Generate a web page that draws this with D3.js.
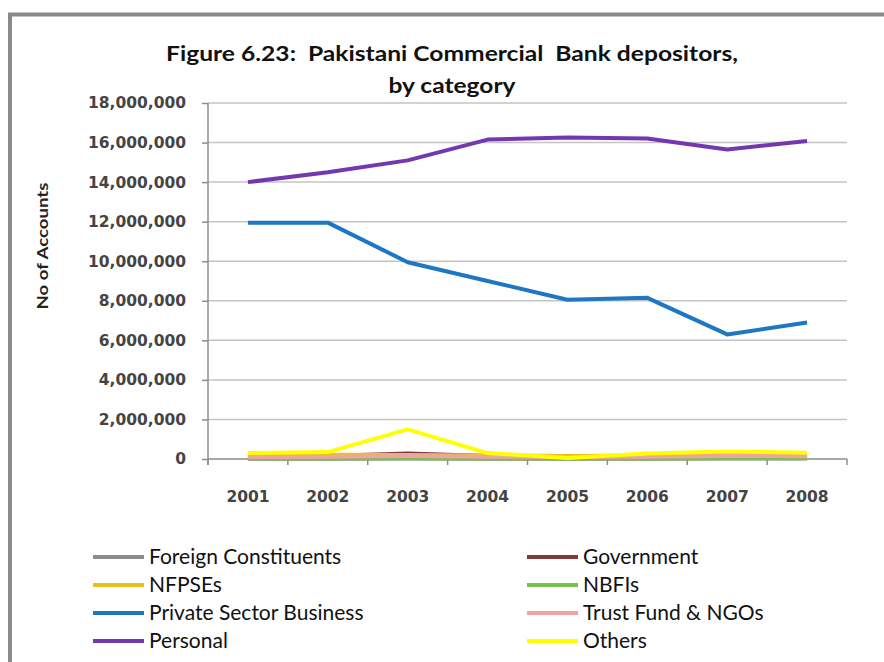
<!DOCTYPE html>
<html>
<head>
<meta charset="utf-8">
<script src="https://cdn.jsdelivr.net/npm/d3@7"></script>
<style>
  html, body { margin: 0; padding: 0; background: #fff; }
  svg { display: block; }
  .title { white-space: pre; }
</style>
</head>
<body>
<svg id="chart" width="884" height="662"></svg>
<script>
// Years on the category axis
const years = ["2001", "2002", "2003", "2004", "2005", "2006", "2007", "2008"];

// Number of accounts per depositor category
const foreignConstituents = [15000, 15000, 20000, 15000, 15000, 15000, 20000, 20000];
const government          = [120000, 150000, 280000, 150000, 100000, 150000, 280000, 200000];
const nfpses              = [250000, 220000, 200000, 180000, 150000, 180000, 220000, 200000];
const nbfis               = [30000, 30000, 40000, 30000, 30000, 30000, 40000, 40000];
const privateSector       = [11950000, 11950000, 9950000, 9000000, 8050000, 8150000, 6300000, 6900000];
const trustFundNGOs       = [100000, 110000, 150000, 120000, 100000, 120000, 150000, 140000];
const personal            = [14000000, 14500000, 15100000, 16150000, 16250000, 16200000, 15650000, 16080000];
const others              = [300000, 350000, 1500000, 300000, 50000, 280000, 380000, 320000];

// Y axis tick values
const yTicks = [0, 2e6, 4e6, 6e6, 8e6, 10e6, 12e6, 14e6, 16e6, 18e6];

const series = [
  { name: "Foreign Constituents",     values: foreignConstituents, color: "#8c8c8c" },
  { name: "Government",               values: government,          color: "#7e3b3b" },
  { name: "NFPSEs",                   values: nfpses,              color: "#e8c21a" },
  { name: "NBFIs",                    values: nbfis,               color: "#78c050" },
  { name: "Private Sector Business",  values: privateSector,       color: "#1f77c4" },
  { name: "Trust Fund & NGOs",        values: trustFundNGOs,       color: "#f0a3a3" },
  { name: "Personal",                 values: personal,            color: "#7338b0" },
  { name: "Others",                   values: others,              color: "#ffff00" }
];

const svg = d3.select("#chart");

// Chart frame
svg.append("rect")
  .attr("x", 10).attr("y", 14.5)
  .attr("width", 900).attr("height", 700)
  .attr("fill", "#fff")
  .attr("stroke", "#8a8a8a")
  .attr("stroke-width", 4);

const plot = { left: 208, right: 847, top: 103, bottom: 459 };

const x = d3.scaleBand().domain(years).range([plot.left, plot.right]);
const y = d3.scaleLinear().domain([0, 18e6]).range([plot.bottom, plot.top]);

// Horizontal gridlines
svg.append("g")
  .selectAll("line")
  .data(yTicks.filter(d => d > 0))
  .join("line")
  .attr("x1", plot.left).attr("x2", plot.right)
  .attr("y1", d => y(d)).attr("y2", d => y(d))
  .attr("stroke", "#c4c4c4")
  .attr("stroke-width", 1.5);

// Y axis
const yAxis = svg.append("g")
  .attr("transform", `translate(${plot.left},0)`)
  .call(d3.axisLeft(y).tickValues(yTicks).tickFormat(d3.format(",")).tickSize(6).tickPadding(16));
yAxis.select(".domain").attr("stroke", "#8c8c8c").attr("stroke-width", 1.5)
  .attr("d", `M0,${plot.top}V${plot.bottom + 6}`);
yAxis.selectAll(".tick line").attr("stroke", "#8c8c8c").attr("stroke-width", 1.5);
yAxis.selectAll(".tick text")
  .attr("font-family", "DejaVu Sans")
  .attr("font-weight", "bold")
  .attr("font-size", 15.5)
  .attr("fill", "#444");

// X axis with ticks at category boundaries
const xAxis = svg.append("g")
  .attr("transform", `translate(0,${plot.bottom})`)
  .call(d3.axisBottom(x).tickSize(0).tickPadding(32));
xAxis.select(".domain").attr("stroke", "#8c8c8c").attr("stroke-width", 1.5)
  .attr("d", `M${plot.left},0H${plot.right}`);
xAxis.selectAll(".tick text")
  .attr("font-family", "DejaVu Sans")
  .attr("font-weight", "bold")
  .attr("font-size", 15.5)
  .attr("fill", "#444");
const boundaries = years.map(d => x(d)).concat([x(years[years.length - 1]) + x.bandwidth()]);
xAxis.append("g")
  .selectAll("line")
  .data(boundaries)
  .join("line")
  .attr("x1", d => d).attr("x2", d => d)
  .attr("y1", 0).attr("y2", 6)
  .attr("stroke", "#8c8c8c")
  .attr("stroke-width", 1.5);

// Series lines
const line = d3.line()
  .x((d, i) => x(years[i]) + x.bandwidth() / 2)
  .y(d => y(d));

svg.append("g")
  .selectAll("path")
  .data(series)
  .join("path")
  .attr("d", d => line(d.values))
  .attr("fill", "none")
  .attr("stroke", d => d.color)
  .attr("stroke-width", 4)
  .attr("stroke-linejoin", "round");

// Title
const title = svg.append("text")
  .attr("class", "title")
  .attr("text-anchor", "middle")
  .attr("font-family", "Lato")
  .attr("font-weight", "bold")
  .attr("font-size", 21)
  .attr("fill", "#111");
title.append("tspan").attr("x", 452).attr("y", 61)
  .attr("textLength", 572).attr("lengthAdjust", "spacingAndGlyphs")
  .text("Figure 6.23:  Pakistani Commercial  Bank depositors,");
title.append("tspan").attr("x", 452).attr("y", 93)
  .attr("textLength", 127).attr("lengthAdjust", "spacingAndGlyphs")
  .text("by category");

// Y axis title
svg.append("text")
  .attr("transform", "translate(48,246) rotate(-90)")
  .attr("text-anchor", "middle")
  .attr("font-family", "Lato")
  .attr("font-weight", "bold")
  .attr("font-size", 16)
  .attr("fill", "#222")
  .attr("textLength", 127)
  .attr("lengthAdjust", "spacingAndGlyphs")
  .text("No of Accounts");

// Legend: two columns, filled row by row
const legend = svg.append("g");
const legendItems = legend.selectAll("g")
  .data(series)
  .join("g")
  .attr("transform", (d, i) => `translate(${i % 2 === 0 ? 93 : 527},${557 + Math.floor(i / 2) * 28})`);
legendItems.append("line")
  .attr("x1", 0).attr("x2", 51)
  .attr("y1", 0).attr("y2", 0)
  .attr("stroke", d => d.color)
  .attr("stroke-width", 4);
legendItems.append("text")
  .attr("x", 56)
  .attr("y", 0)
  .attr("dy", "0.35em")
  .attr("font-family", "Lato")
  .attr("font-size", 21)
  .attr("fill", "#111")
  .text(d => d.name);
</script>
</body>
</html>
